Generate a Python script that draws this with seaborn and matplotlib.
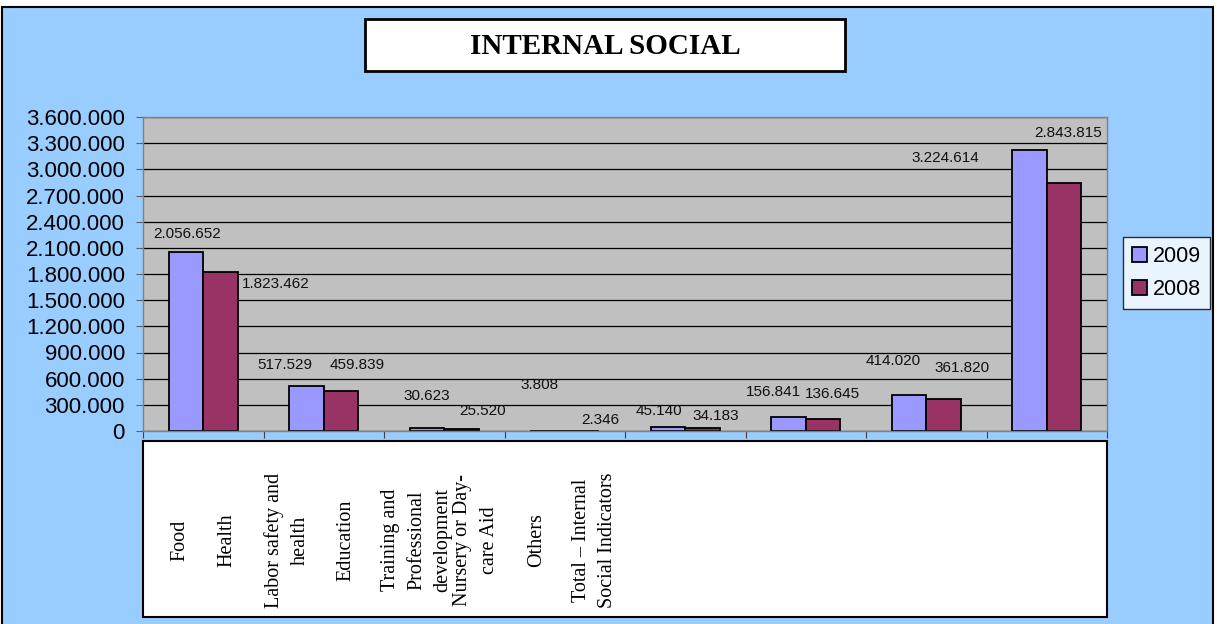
import numpy as np
import pandas as pd
import matplotlib
matplotlib.use("Agg")
import matplotlib.pyplot as plt
from matplotlib.patches import Rectangle
from matplotlib.ticker import FuncFormatter
import seaborn as sns

# ---- data ----
categories = [
    "Food",
    "Health",
    "Labor safety and\nhealth",
    "Education",
    "Training and\nProfessional\ndevelopment",
    "Nursery or Day-\ncare Aid",
    "Others",
    "Total – Internal\nSocial Indicators",
]
years = ["2009", "2008"]
values_2009 = [2056652, 517529, 30623, 3808, 45140, 156841, 414020, 3224614]
values_2008 = [1823462, 459839, 25520, 2346, 34183, 136645, 361820, 2843815]
y_ticks = list(range(0, 3600001, 300000))

# ---- layout helpers (pixel -> figure fraction) ----
W, H = 1217, 624
def fx(px):
    return px / W
def fy(py):
    return 1 - py / H

def thousands(v):
    return f"{int(round(v)):,}".replace(",", ".")

plt.rcParams["font.family"] = ["Liberation Sans", "DejaVu Sans"]

fig = plt.figure(figsize=(W / 100, H / 100), dpi=100, facecolor="white")

# light blue chart area with a thin black frame
fig.add_artist(Rectangle((fx(2), fy(660)), fx(1213) - fx(2), fy(7) - fy(660),
                         transform=fig.transFigure, facecolor="#99CCFF",
                         edgecolor="black", lw=1.5, zorder=0))

ax = fig.add_axes([fx(143), fy(431), fx(1107) - fx(143), fy(117) - fy(431)])
ax.set_facecolor("#C0C0C0")

df = pd.DataFrame({
    "category": categories * 2,
    "year": [years[0]] * len(categories) + [years[1]] * len(categories),
    "value": values_2009 + values_2008,
})

sns.barplot(data=df, x="category", y="value", hue="year", order=categories,
            hue_order=years, palette=["#9999FF", "#993366"], saturation=1,
            width=0.57, edgecolor="black", linewidth=1.3, ax=ax)

ax.set_xlim(-0.5, len(categories) - 0.5)
ax.set_ylim(0, 3600000)
ax.set_xlabel("")
ax.set_ylabel("")
ax.set_yticks(y_ticks)
ax.yaxis.set_major_formatter(FuncFormatter(lambda v, p: thousands(v)))
ax.yaxis.grid(True, color="black", lw=0.9)
ax.xaxis.grid(False)
ax.set_axisbelow(True)
ax.tick_params(axis="y", length=5, color="#606060", pad=8, labelsize=16)

# category boundaries as tick marks, names go in the box below
ax.set_xticks(np.arange(-0.5, len(categories), 1.0))
ax.set_xticklabels([])
ax.tick_params(axis="x", length=5, color="#404040", direction="out")
for s in ax.spines.values():
    s.set_color("#808080")
    s.set_linewidth(1.0)

# value labels, nudged around each bar
label_offsets = [
    [(1, 18), (-22, 21), (0, 32), (-8, 46), (-9, 16), (-15, 25), (-16, 34), (-84, -8)],
    [(55, -12), (16, 26), (21, 18), (18, 11), (13, 12), (10, 25), (19, 31), (4, 50)],
]
for cont, offs in zip(ax.containers, label_offsets):
    for bar, val, (dx, dy) in zip(cont, cont.datavalues, offs):
        ax.annotate(thousands(val), (bar.get_x() + bar.get_width() / 2, bar.get_height()),
                    xytext=(dx, dy), textcoords="offset pixels", ha="center",
                    va="center", fontsize=11, color="#111111", annotation_clip=False)

# legend
handles, labels = ax.get_legend_handles_labels()
ax.get_legend().remove()
leg = ax.legend(handles, labels, loc="center", bbox_to_anchor=(fx(1166.5), fy(273)),
                bbox_transform=fig.transFigure, fontsize=15.5, frameon=True,
                fancybox=False, handlelength=0.7, handleheight=0.7,
                handletextpad=0.3, borderpad=0.4, labelspacing=0.55,
                borderaxespad=0)
leg.get_frame().set_edgecolor("black")
leg.get_frame().set_linewidth(1.0)
leg.get_frame().set_facecolor("white")

# title box
fig.add_artist(Rectangle((fx(365), fy(71)), fx(845) - fx(365), fy(19) - fy(71),
                         transform=fig.transFigure, facecolor="white",
                         edgecolor="black", lw=2, zorder=2))
fig.text(fx(605), fy(46), "INTERNAL SOCIAL", ha="center", va="center",
         family="Liberation Serif", fontweight="bold", fontsize=21, zorder=3)

# category name box
fig.add_artist(Rectangle((fx(143), fy(617)), fx(1107) - fx(143), fy(441) - fy(617),
                         transform=fig.transFigure, facecolor="white",
                         edgecolor="black", lw=1.5, zorder=2))
name_x = [180, 227, 287, 346, 417, 476, 537, 595]
for px, name in zip(name_x, categories):
    fig.text(fx(px), fy(540), name, rotation=90, ha="center", va="center",
             multialignment="center", family="Liberation Serif", fontsize=14.5,
             linespacing=1.5, zorder=3)

fig.savefig("out.png", dpi=100, facecolor=fig.get_facecolor())
